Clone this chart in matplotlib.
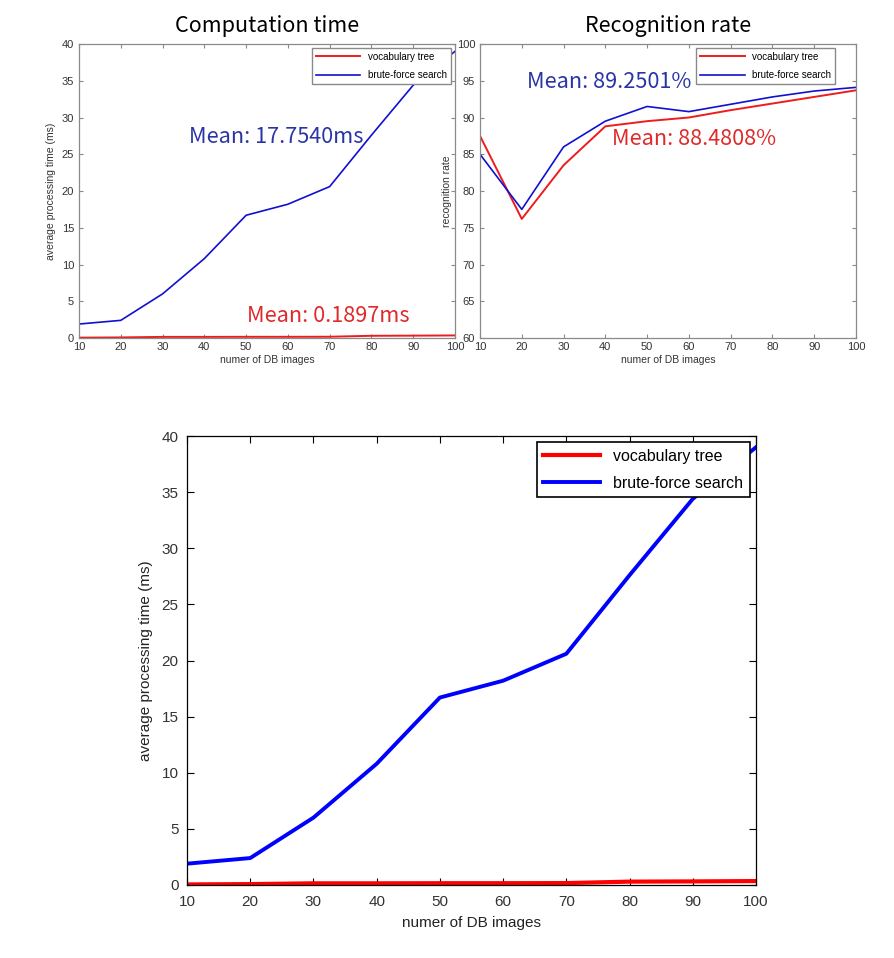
import numpy as np
import matplotlib.pyplot as plt

n_images = [10, 20, 30, 40, 50, 60, 70, 80, 90, 100]
time_vocab = [0.05, 0.08, 0.15, 0.15, 0.16, 0.16, 0.17, 0.30, 0.32, 0.35]
time_brute = [1.9, 2.4, 6.0, 10.8, 16.7, 18.2, 20.6, 27.6, 34.4, 39.0]
rate_vocab = [87.5, 76.2, 83.5, 88.8, 89.5, 90.0, 91.0, 91.9, 92.8, 93.7]
rate_brute = [85.0, 77.5, 86.0, 89.5, 91.5, 90.8, 91.8, 92.8, 93.6, 94.1]
labels = ['vocabulary tree', 'brute-force search']

W, H = 894, 958
fig = plt.figure(figsize=(W / 100, H / 100), dpi=100)

def box(l, t, r, b):
    return [l / W, 1 - b / H, (r - l) / W, (b - t) / H]

tick_font = 'Liberation Sans'
kr_font = ['Noto Sans CJK KR', 'DejaVu Sans']

def style(ax, edge, tsize, tlen, xpad=3):
    for s in ax.spines.values():
        s.set_color(edge)
        s.set_linewidth(0.9)
    ax.tick_params(direction='in', top=True, right=True, length=tlen,
                   labelsize=tsize, colors='#333333', width=0.8)
    ax.tick_params(axis='both', color=edge)
    ax.tick_params(axis='x', pad=xpad)
    for lab in ax.get_xticklabels() + ax.get_yticklabels():
        lab.set_family(tick_font)

# top left: computation time
ax1 = fig.add_axes(box(79, 44, 455, 338))
ax1.plot(n_images, time_vocab, color='#ee1c1c', lw=1.4, label=labels[0])
ax1.plot(n_images, time_brute, color='#1010d0', lw=1.2, label=labels[1])
ax1.set(xlim=(10, 100), ylim=(0, 40))
ax1.set_xticks(range(10, 101, 10))
ax1.set_yticks(range(0, 41, 5))
style(ax1, '#8a8a8a', 8, 3)
ax1.set_xlabel('numer of DB images', fontsize=7.5, family=tick_font, color='#333333', labelpad=2)
ax1.set_ylabel('average processing time (ms)', fontsize=7.5, family=tick_font, color='#333333', labelpad=4)
ax1.set_title('Computation time', fontsize=15.5, family=kr_font, pad=9)
ax1.text(36.3, 26.5, 'Mean: 17.7540ms', color='#2a35a5', fontsize=15.6, family=kr_font)
ax1.text(50.2, 2.2, 'Mean: 0.1897ms', color='#e02a2a', fontsize=15.6, family=kr_font)
leg = ax1.legend(loc='upper right', prop={'family': tick_font, 'size': 7},
                 handlelength=4.6, labelspacing=0.85, borderaxespad=0.4,
                 fancybox=False, framealpha=1)
leg.get_frame().set_edgecolor('#8a8a8a')

# top right: recognition rate
ax2 = fig.add_axes(box(480, 44, 856, 338))
ax2.plot(n_images, rate_vocab, color='#ee1c1c', lw=1.4, label=labels[0])
ax2.plot(n_images, rate_brute, color='#1010d0', lw=1.2, label=labels[1])
ax2.set(xlim=(10, 100), ylim=(60, 100))
ax2.set_xticks(range(10, 101, 10))
ax2.set_yticks(range(60, 101, 5))
style(ax2, '#8a8a8a', 8, 3)
ax2.set_xlabel('numer of DB images', fontsize=7.5, family=tick_font, color='#333333', labelpad=2)
ax2.set_ylabel('recognition rate', fontsize=7.5, family=tick_font, color='#333333', labelpad=3)
ax2.set_title('Recognition rate', fontsize=15.5, family=kr_font, pad=9)
ax2.text(21.2, 94.0, 'Mean: 89.2501%', color='#2a35a5', fontsize=15.6, family=kr_font)
ax2.text(41.6, 86.2, 'Mean: 88.4808%', color='#e02a2a', fontsize=15.6, family=kr_font)
leg = ax2.legend(loc='upper right', prop={'family': tick_font, 'size': 7},
                 handlelength=4.6, labelspacing=0.85, borderaxespad=0.4,
                 bbox_to_anchor=(0.955, 1.0), fancybox=False, framealpha=1)
leg.get_frame().set_edgecolor('#8a8a8a')

# bottom: enlarged computation time
ax3 = fig.add_axes(box(187, 436, 756, 885))
ax3.plot(n_images, time_vocab, color='#ff0000', lw=3, label=labels[0])
ax3.plot(n_images, time_brute, color='#0000ff', lw=2.8, label=labels[1])
ax3.set(xlim=(10, 100), ylim=(0, 40))
ax3.set_xticks(range(10, 101, 10))
ax3.set_yticks(range(0, 41, 5))
style(ax3, 'black', 11, 5, xpad=7)
ax3.tick_params(axis='y', pad=6)
ax3.set_xlabel('numer of DB images', fontsize=11, family=tick_font, color='#222222', labelpad=5)
ax3.set_ylabel('average processing time (ms)', fontsize=11, family=tick_font, color='#222222', labelpad=6)
leg = ax3.legend(loc='upper right', prop={'family': tick_font, 'size': 11.5},
                 handlelength=3.6, labelspacing=0.75, borderaxespad=0.4,
                 fancybox=False, framealpha=1)
leg.get_frame().set_edgecolor('black')
leg.get_frame().set_linewidth(1.2)

fig.savefig('out.png', dpi=100)
